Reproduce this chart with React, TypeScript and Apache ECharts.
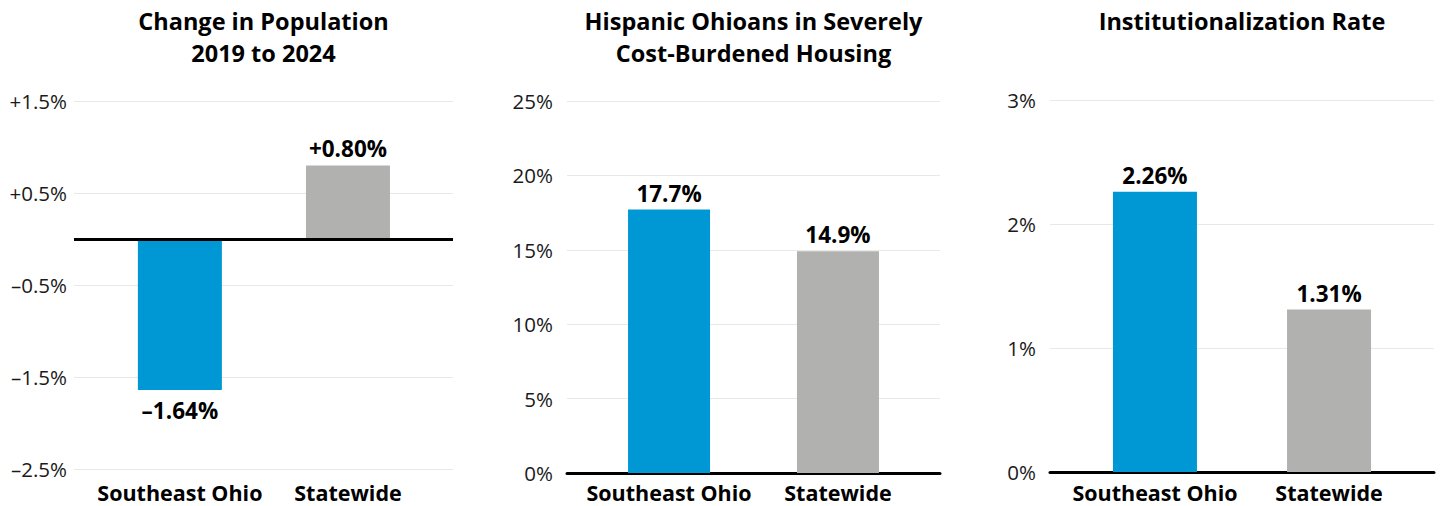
import React, { useEffect, useRef } from "react";
import * as echarts from "echarts";

const categories = ["Southeast Ohio", "Statewide"];
const popChange = [-1.64, 0.8];
const hispanicBurden = [17.7, 14.9];
const institutionalization = [2.26, 1.31];
const barColors = ["#0098d4", "#b1b2af"];
const titles = [
  "Change in Population\n2019 to 2024",
  "Hispanic Ohioans in Severely\nCost-Burdened Housing",
  "Institutionalization Rate",
];

const FONT = "'Open Sans', sans-serif";

const fmtSigned = (v: number, d: number) => {
  const s = Math.abs(v).toFixed(d) + "%";
  if (v > 0) return "+" + s;
  if (v < 0) return "\u2013" + s;
  return s;
};

const panels = [
  { left: 74, width: 379, top: 101, bottom: 37, xmin: -0.63, xmax: 1.625, barWidth: 84,
    ymin: -2.5, ymax: 1.5, interval: 1, values: popChange,
    yfmt: (v: number) => fmtSigned(v, 1), lfmt: (v: number) => fmtSigned(v, 2), ymargin: 7, xmargin: 12, zeroLine: true },
  { left: 567, width: 373, top: 101, bottom: 33, xmin: -0.604, xmax: 1.604, barWidth: 82,
    ymin: 0, ymax: 25, interval: 5, values: hispanicBurden,
    yfmt: (v: number) => v + "%", lfmt: (v: number) => v.toFixed(1) + "%", ymargin: 14, xmargin: 8, zeroLine: false },
  { left: 1050, width: 384, top: 100, bottom: 34, xmin: -0.603, xmax: 1.603, barWidth: 84,
    ymin: 0, ymax: 3, interval: 1, values: institutionalization,
    yfmt: (v: number) => v + "%", lfmt: (v: number) => v.toFixed(2) + "%", ymargin: 14, xmargin: 9, zeroLine: false },
];

export default function App() {
  const ref = useRef<HTMLDivElement>(null);
  useEffect(() => {
    if (!ref.current) return;
    const chart = echarts.init(ref.current, null, { renderer: "svg" });
    const option: any = {
      animation: false,
      backgroundColor: "#ffffff",
      title: panels.map((p, i) => ({
        text: titles[i],
        left: p.left + p.width / 2,
        top: 5,
        textAlign: "center",
        padding: 0,
        textStyle: { fontFamily: FONT, fontWeight: "bold", fontSize: 23.5, lineHeight: 32, color: "#000" },
      })),
      grid: panels.map((p) => ({ left: p.left, width: p.width, top: p.top, bottom: p.bottom, containLabel: false })),
      xAxis: panels.map((p, i) => ({
        type: "value",
        gridIndex: i,
        min: p.xmin,
        max: p.xmax,
        splitLine: { show: false },
        axisTick: { show: false },
        axisLine: { show: !p.zeroLine, onZero: false, lineStyle: { color: "#000", width: 3 } },
        axisLabel: {
          customValues: [0, 1],
          formatter: (v: number) => categories[Math.round(v)] ?? "",
          fontFamily: FONT,
          fontWeight: "bold",
          fontSize: 21.5,
          color: "#000",
          margin: p.xmargin,
        },
      })),
      yAxis: panels.map((p, i) => ({
        type: "value",
        gridIndex: i,
        min: p.ymin,
        max: p.ymax,
        interval: p.interval,
        axisLine: { show: false },
        axisTick: { show: false },
        splitLine: { show: true, lineStyle: { color: "#e8e8e8", width: 1 } },
        axisLabel: { formatter: p.yfmt, fontFamily: FONT, fontSize: 20.5, color: "#1a1a1a", margin: p.ymargin },
      })),
      series: panels.map((p, i) => ({
        type: "bar",
        xAxisIndex: i,
        yAxisIndex: i,
        barWidth: p.barWidth,
        data: p.values.map((v, j) => ({
          value: [j, v],
          itemStyle: { color: barColors[j] },
          label: {
            show: true,
            position: v < 0 ? "bottom" : "top",
            distance: v < 0 ? 9 : 5,
            formatter: () => p.lfmt(v),
            fontFamily: FONT,
            fontWeight: "bold",
            fontSize: 22.5,
            color: "#000",
          },
        })),
        markLine: p.zeroLine
          ? {
              silent: true,
              symbol: ["none", "none"],
              label: { show: false },
              lineStyle: { color: "#000", width: 3, type: "solid" },
              data: [{ yAxis: 0 }],
            }
          : undefined,
      })),
    };
    chart.setOption(option);
    return () => chart.dispose();
  }, []);
  return <div ref={ref} style={{ position: "fixed", left: 0, top: 0, width: 1442, height: 506 }} />;
}
